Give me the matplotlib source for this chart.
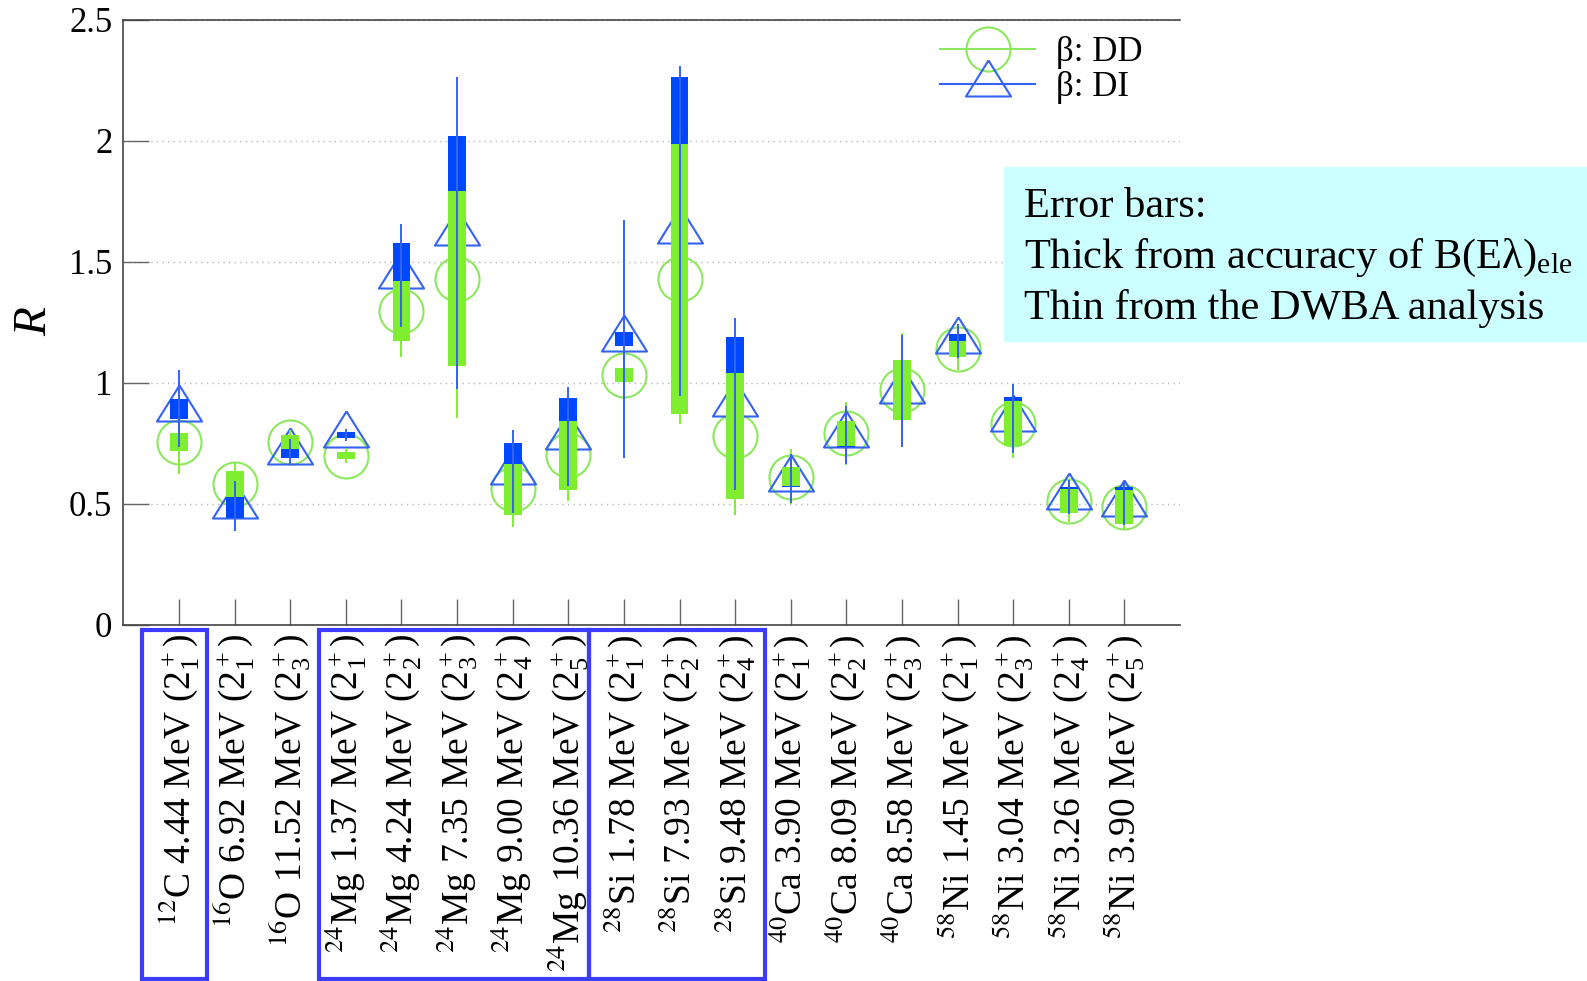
import numpy as np
import matplotlib
matplotlib.use("Agg")
from matplotlib import pyplot as plt
from matplotlib.lines import Line2D
from matplotlib.patches import Rectangle
from matplotlib.transforms import blended_transform_factory

plt.rcParams['font.family'] = ['Liberation Serif', 'DejaVu Serif']
plt.rcParams['mathtext.fontset'] = 'stix'

# States: mass number, element, excitation energy (MeV), 2+ index
mass = [12, 16, 16, 24, 24, 24, 24, 24, 28, 28, 28, 40, 40, 40, 58, 58, 58, 58]
elem = ['C', 'O', 'O', 'Mg', 'Mg', 'Mg', 'Mg', 'Mg', 'Si', 'Si', 'Si',
        'Ca', 'Ca', 'Ca', 'Ni', 'Ni', 'Ni', 'Ni']
energy = ['4.44', '6.92', '11.52', '1.37', '4.24', '7.35', '9.00', '10.36',
          '1.78', '7.93', '9.48', '3.90', '8.09', '8.58', '1.45', '3.04',
          '3.26', '3.90']
state = [1, 1, 3, 1, 2, 3, 4, 5, 1, 2, 4, 1, 2, 3, 1, 3, 4, 5]

# R with density-dependent (DD) beta
r_dd = [0.755, 0.579, 0.754, 0.698, 1.295, 1.43, 0.558, 0.699, 1.032,
        1.428, 0.779, 0.611, 0.79, 0.968, 1.14, 0.83, 0.51, 0.485]
thick_dd = [0.036, 0.054, 0.028, 0.014, 0.123, 0.36, 0.105, 0.143, 0.03,
            0.558, 0.26, 0.038, 0.052, 0.124, 0.033, 0.093, 0.048, 0.069]
thin_dd = [0.132, 0.09, 0.05, 0.032, 0.19, 0.576, 0.157, 0.188, 0.1,
           0.60, 0.325, 0.115, 0.13, 0.235, 0.09, 0.14, 0.085, 0.095]

# R with density-independent (DI) beta
r_di = [0.892, 0.49, 0.714, 0.783, 1.442, 1.618, 0.631, 0.777, 1.18,
        1.627, 0.91, 0.603, 0.782, 0.965, 1.17, 0.85, 0.527, 0.50]
thick_di = [0.042, 0.05, 0.025, 0.012, 0.134, 0.403, 0.121, 0.158, 0.03,
            0.635, 0.277, 0.033, 0.05, 0.12, 0.03, 0.092, 0.04, 0.068]
thin_di = [0.16, 0.105, 0.051, 0.026, 0.214, 0.644, 0.172, 0.205, 0.49,
           0.683, 0.356, 0.10, 0.12, 0.23, 0.07, 0.143, 0.07, 0.09]

labels = [r"$^{%d}$%s %s MeV ($\mathregular{2_%d^+}$)" % (m, e, en, s)
          for m, e, en, s in zip(mass, elem, energy, state)]

green = '#80ee30'
green_mk = '#8ce85c'
blue = '#0048ff'
blue_mk = '#3462f2'

# triangle marker that sits a bit low on its point, apex above
tri = [(0, 1), (-0.9375, -0.5), (0.9375, -0.5), (0, 1)]

x = np.arange(len(labels))
r_dd, thick_dd, thin_dd = map(np.array, (r_dd, thick_dd, thin_dd))
r_di, thick_di, thin_di = map(np.array, (r_di, thick_di, thin_di))

fig = plt.figure(figsize=(15.87, 9.81), dpi=100)
ax = fig.add_axes([0.0778, 0.3634, 0.6657, 0.6166])

ax.plot(x, r_dd, ls='none', marker='o', ms=31.7, mfc='none', mec=green_mk, mew=1.5, zorder=2)
ax.plot(x, r_di, ls='none', marker=tri, ms=34.6, mfc='none', mec=blue_mk, mew=1.5, zorder=2)

ax.bar(x, 2 * thick_di, bottom=r_di - thick_di, width=0.32, color=blue, zorder=3)
ax.bar(x, 2 * thick_dd, bottom=r_dd - thick_dd, width=0.32, color=green, zorder=3)
ax.vlines(x, r_dd - thin_dd, r_dd + thin_dd, colors=green, lw=1.4, zorder=4)
ax.vlines(x, r_di - thin_di, r_di + thin_di, colors=blue_mk, lw=1.4, zorder=4)

ax.set_xlim(-1, 18)
ax.set_ylim(0, 2.5)
ax.set_yticks([0, 0.5, 1, 1.5, 2, 2.5])
ax.set_yticklabels(['0', '0.5', '1', '1.5', '2', '2.5'], fontsize=25)
ax.set_xticks(x)
ax.set_xticklabels(labels, rotation=90, ha='center', va='top', fontsize=27)
ax.tick_params(axis='both', direction='in', length=19, width=1, color='#666666')
ax.tick_params(axis='x', pad=7)
ax.tick_params(axis='y', pad=8)
ax.yaxis.grid(True, ls=(0, (1, 3)), color='#b8b8b8', lw=1)
ax.set_axisbelow(True)
ax.spines['right'].set_visible(False)
for s in ('left', 'bottom', 'top'):
    ax.spines[s].set_color('#444444')
    ax.spines[s].set_linewidth(1.2)

fig.text(35 / 1587, 1 - 322 / 981, 'R', style='italic', fontsize=34,
         rotation=90, ha='center', va='center')

handles = [Line2D([], [], color=green_mk, lw=1.5, marker='o', ms=31.7, mfc='none', mew=1.5),
           Line2D([], [], color=blue_mk, lw=1.5, marker=tri, ms=34.6, mfc='none', mew=1.5)]
ax.legend(handles, [u'\u03b2: DD', u'\u03b2: DI'], loc='upper left',
          bbox_to_anchor=(940 / 1587, 1 - 36 / 981), bbox_transform=fig.transFigure,
          frameon=False, fontsize=25, handlelength=2.75, handletextpad=0.6,
          labelspacing=0.05, borderpad=0, borderaxespad=0)

# groups of states boxed under the axis
trans = blended_transform_factory(ax.transData, fig.transFigure)
for x0, x1 in [(-0.67, 0.51), (2.51, 7.37), (7.37, 10.53)]:
    ax.add_patch(Rectangle((x0, 0.0023), x1 - x0, 0.356, transform=trans,
                           fill=False, ec='#3c3cff', lw=3, clip_on=False, zorder=5))

fig.patches.append(Rectangle((1004 / 1587, 1 - 341 / 981), 583 / 1587, 174 / 981,
                             transform=fig.transFigure, color='#ccffff', zorder=0))
notes = ['Error bars:',
         u'Thick from accuracy of B(E\u03bb)$_\\mathregular{ele}$',
         'Thin from the DWBA analysis']
for i, t in enumerate(notes):
    fig.text(1024 / 1587, 1 - (207 + 51 * i) / 981, t, fontsize=30.5, ha='left', va='center')

fig.savefig('out.png', dpi=100)
